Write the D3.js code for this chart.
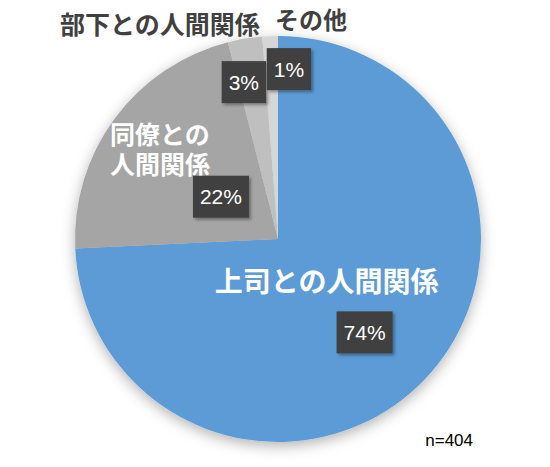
<!DOCTYPE html>
<html><head><meta charset="utf-8">
<script src="https://cdn.jsdelivr.net/npm/d3@7/dist/d3.min.js"></script>
<style>html,body{margin:0;padding:0;background:#fff;}</style>
</head><body>
<svg id="chart" width="550" height="467"></svg>
<script>
// data
const categories = ["上司との人間関係", "同僚との人間関係", "部下との人間関係", "その他"];
const counts = [300, 88, 11, 5];
const total = 404;
const colors = ["#5B9BD5", "#A5A5A5", "#BFBFBF", "#D6D6D6"];
// label layout (per slice): box placed at arc radius + offset; name lines relative to box
const labelLayout = [
  {r: 128, dx: -6, dy: 5, lines: ["上司との人間関係"], nx: -38, ny: -50, size: 28, fill: "#fff"},
  {r: 71, dx: 0, dy: 0, lines: ["同僚との", "人間関係"], nx: -61, ny: -62, size: 25, fill: "#fff"},
  {r: 161, dx: -8, dy: 2, lines: ["部下との人間関係"], nx: -84, ny: -57, size: 25, fill: "#404040"},
  {r: 170, dx: 17.5, dy: 0, lines: ["その他"], nx: 22, ny: -49, size: 24, fill: "#404040"}
];

const svg = d3.select("#chart");
const cx = 278, cy = 239, R = 203;
const defs = svg.append("defs");
const f = defs.append("filter").attr("id","pieShadow").attr("x","-20%").attr("y","-20%").attr("width","140%").attr("height","140%");
f.append("feDropShadow").attr("dx",0).attr("dy",4).attr("stdDeviation",7).attr("flood-color","#000").attr("flood-opacity",0.3);
const f2 = defs.append("filter").attr("id","boxShadow").attr("x","-30%").attr("y","-30%").attr("width","160%").attr("height","160%");
f2.append("feDropShadow").attr("dx",2).attr("dy",2).attr("stdDeviation",1.5).attr("flood-color","#000").attr("flood-opacity",0.35);

const pie = d3.pie().sort(null).value(d => d)(counts);
const arc = d3.arc().innerRadius(0).outerRadius(R);
const g = svg.append("g").attr("transform", `translate(${cx},${cy})`);
g.append("g").attr("filter","url(#pieShadow)")
  .selectAll("path").data(pie).join("path")
  .attr("d", arc).attr("fill", (d,i) => colors[i]);

const font = "'Noto Sans CJK JP','Noto Sans',sans-serif";
pie.forEach((d, i) => {
  const L = labelLayout[i];
  const a = (d.startAngle + d.endAngle) / 2;
  const bx = Math.sin(a) * L.r + L.dx;
  const by = -Math.cos(a) * L.r + L.dy;
  const pct = Math.round(d.value / total * 100) + "%";
  // name
  const nt = g.append("text")
    .attr("text-anchor","middle")
    .attr("font-family", font).attr("font-weight", 700)
    .attr("font-size", L.size).attr("fill", L.fill);
  L.lines.forEach((ln, k) => {
    nt.append("tspan").attr("x", bx + L.nx).attr("y", by + L.ny + k * 30)
      .attr("dy", "0.36em").text(ln);
  });
  // percent box
  const bg = g.append("g");
  const t = bg.append("text")
    .attr("x", bx).attr("y", by).attr("dy","0.36em")
    .attr("text-anchor","middle")
    .attr("font-family", "'Liberation Sans',Arial,sans-serif")
    .attr("font-size", 21).attr("fill","#fff").text(pct);
  const w = t.node().getComputedTextLength() + 14;
  bg.insert("rect","text").attr("x", bx - w/2).attr("y", by - 21).attr("width", w).attr("height", 42)
    .attr("fill","#404040").attr("filter","url(#boxShadow)");
});

svg.append("text").attr("x", 473).attr("y", 446).attr("text-anchor","end")
  .attr("font-family","'Liberation Sans',Arial,sans-serif").attr("font-size",17).attr("fill","#000")
  .text("n=" + total);
</script>
</body></html>
